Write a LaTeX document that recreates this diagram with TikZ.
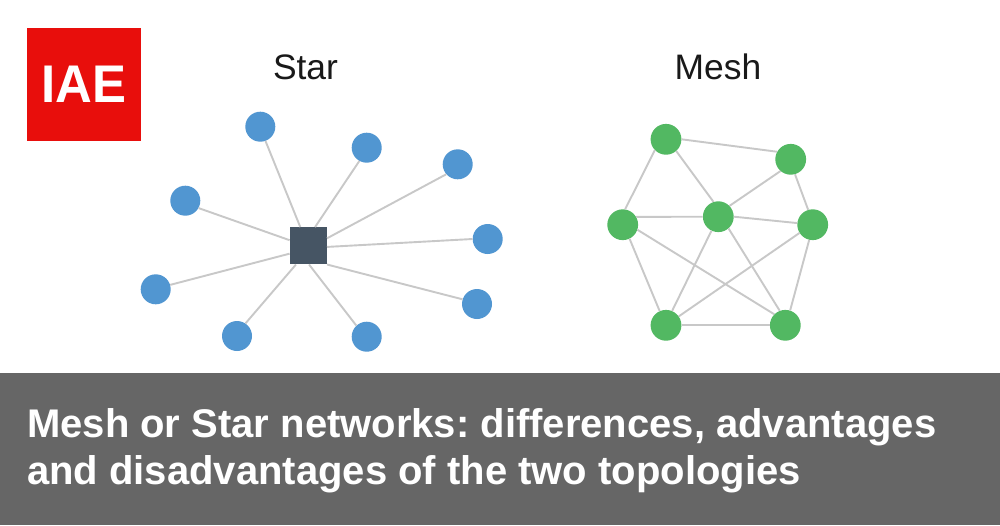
\documentclass[tikz,border=0pt]{standalone}
\usepackage{fontspec}
\usepackage{graphicx}
\usetikzlibrary{calc}
\setmainfont{Liberation Sans}
\frenchspacing
\definecolor{barc}{HTML}{666666}
\definecolor{redc}{HTML}{E80E0C}
\definecolor{bluec}{HTML}{5196D1}
\definecolor{greenc}{HTML}{52B862}
\definecolor{hubc}{HTML}{465564}
\definecolor{linkc}{HTML}{C8C8C8}
\tikzset{x=1pt,y=-1pt,
 bluedot/.style={circle,fill=bluec,minimum size=30pt,inner sep=0pt},
 greendot/.style={circle,fill=greenc,minimum size=30.8pt,inner sep=0pt},
 hubbox/.style={rectangle,fill=hubc,minimum size=37pt,inner sep=0pt},
 link/.style={draw=linkc,line width=1.9pt},
 heading/.style={font=\fontsize{35.4}{36}\selectfont,text=black!90,inner sep=0pt},
 title/.style={font=\bfseries\fontsize{40}{40}\selectfont,text=white,inner sep=0pt,anchor=base west}}
\begin{document}
\begin{tikzpicture}
\useasboundingbox (0,0) rectangle (1000,525);
\fill[white] (0,0) rectangle (1000,525);
\fill[barc] (0,373) rectangle (1000,525);
\node[fill=redc,minimum width=114pt,minimum height=113pt,inner sep=0pt,anchor=north west,text=white,font=\bfseries\fontsize{53}{53}\selectfont] (logo) at (27,28) {\scalebox{0.96}[1]{IAE}};
\node[heading] (st) at (305.5,67) {Star};
\node[heading] (me) at (718,67) {Mesh};
\node[hubbox] (h) at (308.3,245.8) {};
\foreach \n/\x/\y in {a/260.3/126.7,b/366.7/147.7,c/457.7/164.3,d/487.7/239,e/477/304,f/366.7/336.7,g/237/336,i/155.7/289.3,j/185.3/200.7}{
 \node[bluedot] (\n) at (\x,\y) {};
}
\foreach \n/\x/\y in {m1/666/139.3,m2/790.7/159.3,m3/622.7/224.7,m4/718.3/216.7,m5/812.7/224.7,m6/666/325.3,m7/785.3/325.3}{
 \node[greendot] (\n) at (\x,\y) {};
}
% star links: fixed points along the sides of the hub, to the rim of each dot
\foreach \n/\s/\e/\t/\ang in {a/north west/north east/.286/-70,
 b/north west/north east/.68/241.8,
 c/north east/south east/.3/221.5,
 d/north east/south east/.53/180,
 e/north east/south east/1/162,
 f/south west/south east/.52/133,
 g/south west/south east/.17/56,
 i/north west/south west/.71/17,
 j/north west/south west/.35/-29}{
 \draw[link] ($(h.\s)!\t!(h.\e)$) -- (\n.\ang);
}
% mesh links
\foreach \p/\pa/\q/\qa in {m1/0/m2/151.5,m1/224/m3/81,m1/-49/m4/108,m2/229/m4/44,m2/-74/m5/107,
 m3/30/m4/180,m4/0/m5/174,m3/-19/m7/135,m3/-64/m6/114,m4/244/m6/67,m4/-49/m7/111,m5/212/m6/35,m5/257/m7/72,m6/0/m7/180}{
 \draw[link] (\p.\pa) -- (\q.\qa);
}
\node[title] (t1) at (27,437) {Mesh or Star networks: differences, advantages};
\node[title] (t2) at (27,484.5) {and disadvantages of the two topologies};
\end{tikzpicture}
\end{document}
